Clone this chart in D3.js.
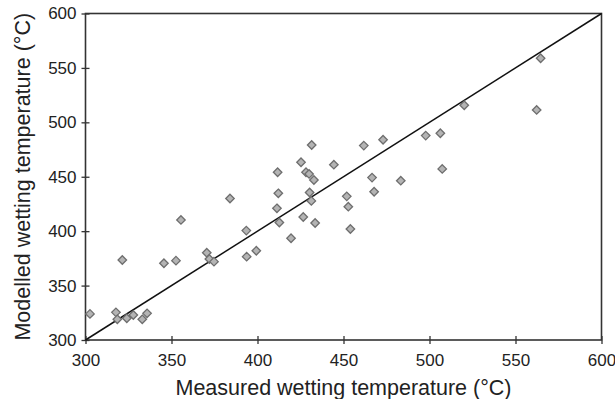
<!DOCTYPE html>
<html>
<head>
<meta charset="utf-8">
<script src="https://cdn.jsdelivr.net/npm/d3@7"></script>
<style>
  body { margin: 0; background: #fff; }
  text { font-family: "Liberation Sans", Arial, sans-serif; fill: #222; }
</style>
</head>
<body>
<div id="chart"></div>
<script>
// Measured vs modelled wetting temperature (°C)
const measured = [302.6, 317.7, 318.5, 321.4, 324, 327.8, 333, 335.8, 345.6, 352.6,
  355.5, 370.5, 372, 374.7, 384, 393.5, 393.7, 399.3, 411.7, 412.1,
  411.3, 412.7, 419.5, 426.6, 425.3, 428.2, 430, 432.8, 430.3, 431.3,
  431.5, 433.5, 444.4, 451.9, 452.8, 454, 461.8, 466.6, 467.8, 473,
  483.3, 497.8, 506.3, 507.4, 520.2, 562.3, 564.6];
const modelled = [324, 325.4, 319, 373.5, 320, 323, 319, 324.5, 370.5, 372.9,
  410.3, 380.2, 374.4, 372, 430, 400.5, 376.6, 382, 454.1, 434.8,
  421, 408, 393.5, 413, 463.3, 454.1, 452.6, 447, 435.5, 427.8,
  479.2, 407.5, 461.1, 432, 422.5, 402, 478.6, 449.2, 436.2, 484,
  446.4, 487.8, 490, 457.2, 515.7, 511.4, 558.9];
const xTicks = [300, 350, 400, 450, 500, 550, 600];
const yTicks = [300, 350, 400, 450, 500, 550, 600];
const xTitle = "Measured wetting temperature (°C)";
const yTitle = "Modelled wetting temperature (°C)";

const width = 615, height = 399;
const margin = {left: 85.5, right: 13.5, top: 13.5, bottom: 59};

const svg = d3.select("#chart").append("svg")
  .attr("width", width)
  .attr("height", height);

const x = d3.scaleLinear().domain([300, 600]).range([margin.left, width - margin.right]);
const y = d3.scaleLinear().domain([300, 600]).range([height - margin.bottom, margin.top]);

// axes with ticks crossing the frame
const xAxis = svg.append("g")
  .attr("transform", `translate(0,${y(300)})`)
  .call(d3.axisBottom(x).tickValues(xTicks).tickSizeInner(4).tickSizeOuter(0).tickPadding(10));
xAxis.selectAll(".tick line").attr("y1", -4).attr("stroke", "#333").attr("stroke-width", 1.3);
xAxis.select(".domain").remove();
xAxis.selectAll(".tick text").style("font-size", "17px").attr("fill", "#222");

const yAxis = svg.append("g")
  .attr("transform", `translate(${x(300)},0)`)
  .call(d3.axisLeft(y).tickValues(yTicks).tickSizeInner(4).tickSizeOuter(0).tickPadding(5));
yAxis.selectAll(".tick line").attr("x1", 4).attr("stroke", "#333").attr("stroke-width", 1.3);
yAxis.select(".domain").remove();
yAxis.selectAll(".tick text").style("font-size", "17px").attr("fill", "#222");

// frame
svg.append("rect")
  .attr("x", x(300)).attr("y", y(600))
  .attr("width", x(600) - x(300)).attr("height", y(300) - y(600))
  .attr("fill", "none").attr("stroke", "#333").attr("stroke-width", 1.6);

// 1:1 line
svg.append("line")
  .attr("x1", x(300)).attr("y1", y(300))
  .attr("x2", x(600)).attr("y2", y(600))
  .attr("stroke", "#111").attr("stroke-width", 1.5);

// points
const pts = measured.map((m, i) => ({m: m, p: modelled[i]}));
svg.append("g").selectAll("path")
  .data(pts)
  .enter()
  .append("path")
  .attr("d", d3.symbol().type(d3.symbolDiamond2).size(46))
  .attr("transform", d => `translate(${x(d.m)},${y(d.p)})`)
  .attr("fill", "#b4b4b4")
  .attr("stroke", "#6e6e6e")
  .attr("stroke-width", 1.3);

svg.append("text")
  .attr("x", (x(300) + x(600)) / 2)
  .attr("y", 395)
  .attr("text-anchor", "middle")
  .style("font-size", "21.5px")
  .text(xTitle);

svg.append("text")
  .attr("transform", `translate(30,${(y(300) + y(600)) / 2}) rotate(-90)`)
  .attr("text-anchor", "middle")
  .style("font-size", "21.5px")
  .text(yTitle);
</script>
</body>
</html>
